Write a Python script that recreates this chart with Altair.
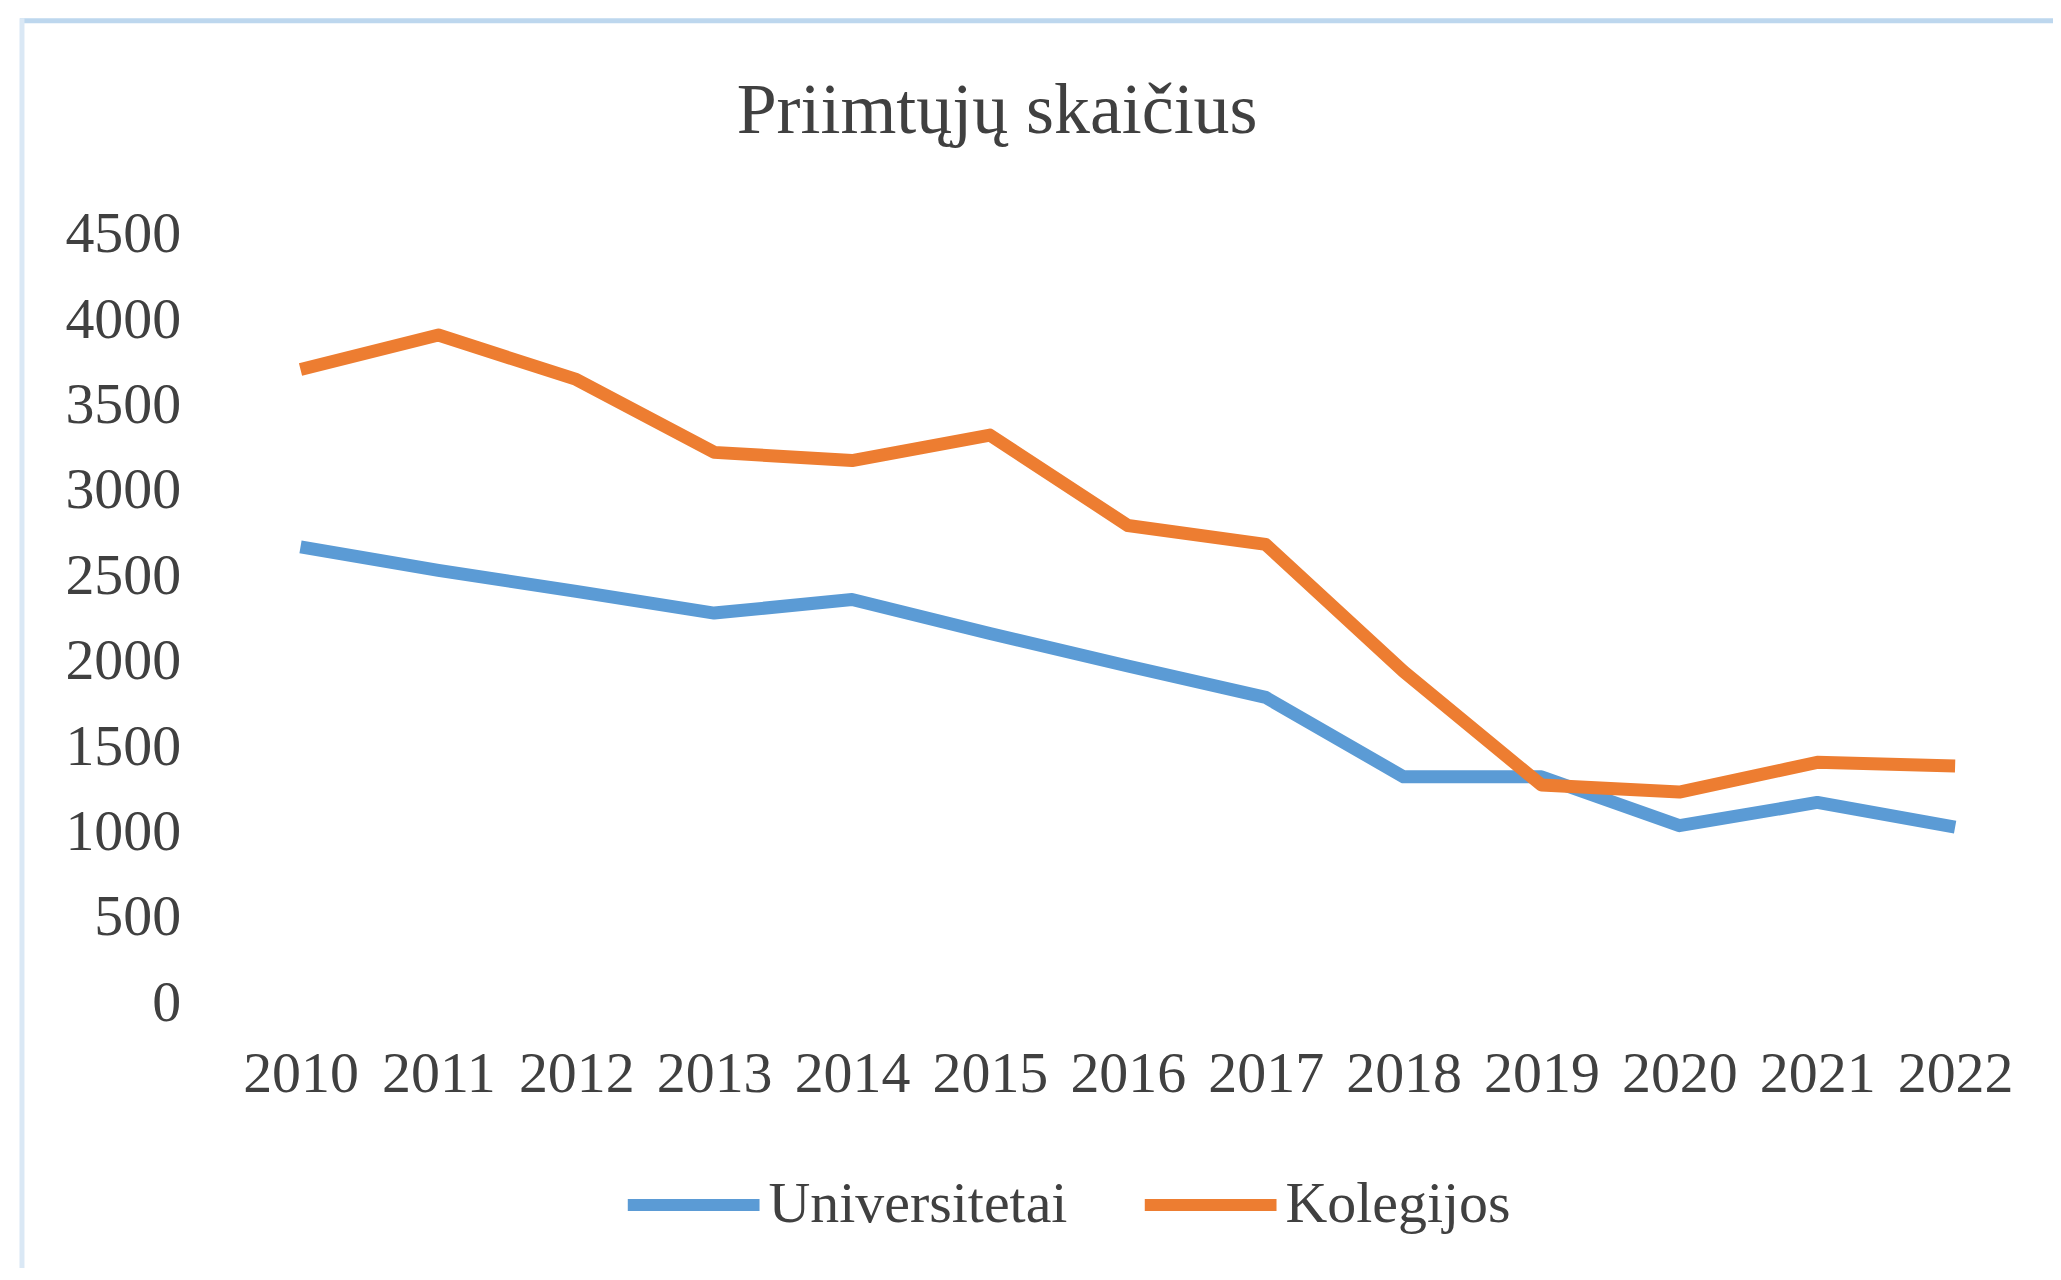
import altair as alt
import pandas as pd

years = ["2010", "2011", "2012", "2013", "2014", "2015", "2016",
         "2017", "2018", "2019", "2020", "2021", "2022"]
universitetai = [2672, 2535, 2412, 2285, 2364, 2165, 1975, 1791, 1326, 1326, 1040, 1176, 1031]
kolegijos = [3711, 3913, 3653, 3226, 3178, 3327, 2798, 2687, 1943, 1278, 1237, 1411, 1389]
series_names = ["Universitetai", "Kolegijos"]
series_colors = ["#5B9BD5", "#ED7D31"]
y_ticks = [0, 500, 1000, 1500, 2000, 2500, 3000, 3500, 4000, 4500]
title_text = "Priimtųjų skaičius"

rows = []
for name, vals in zip(series_names, [universitetai, kolegijos]):
    for y, v in zip(years, vals):
        rows.append({"year": y, "value": v, "series": name})
df = pd.DataFrame(rows)

FONT = "Liberation Serif"
TEXT = "#404040"

lines = alt.Chart(df).mark_line(strokeWidth=13, strokeJoin="round").encode(
    x=alt.X("year:O", sort=years,
            scale=alt.Scale(type="point", padding=0.5),
            axis=alt.Axis(title=None, labelAngle=0, domain=False, ticks=False, grid=False,
                          labelPadding=42, labelFontSize=58, labelFont=FONT,
                          labelColor=TEXT, labelOverlap=False)),
    y=alt.Y("value:Q",
            scale=alt.Scale(domain=[0, 4500], nice=False, zero=True),
            axis=alt.Axis(title=None, values=y_ticks, format="d", domain=False,
                          ticks=False, grid=False,
                          labelPadding=51, labelFontSize=58, labelFont=FONT,
                          labelColor=TEXT)),
    color=alt.Color("series:N", sort=series_names,
                    scale=alt.Scale(domain=series_names, range=series_colors),
                    legend=alt.Legend(orient="none", legendX=391, legendY=900,
                                      direction="horizontal", title=None,
                                      symbolType="stroke", symbolSize=17424,
                                      symbolStrokeWidth=12, labelFontSize=58,
                                      labelFont=FONT, labelColor=TEXT,
                                      labelOffset=3, columnPadding=53,
                                      padding=0, labelLimit=1000)),
)

one = pd.DataFrame({"a": [0]})
top_border = alt.Chart(one).mark_rule(color="#BDD7EE", strokeWidth=5).encode(
    x=alt.value(-212), x2=alt.value(1829), y=alt.value(-214.5))
left_border = alt.Chart(one).mark_rule(color="#DAE8F5", strokeWidth=5).encode(
    x=alt.value(-210), y=alt.value(-217), y2=alt.value(1046))

chart = alt.layer(top_border, left_border, lines).properties(
    width=1796, height=770,
    padding={"left": 224, "top": 226, "right": 29, "bottom": 264},
    autosize=alt.AutoSizeParams(type="none"),
    title=alt.TitleParams(text=title_text, font=FONT, fontSize=72, color=TEXT,
                          fontWeight="normal", anchor="middle", frame="group",
                          offset=0, dy=190, baseline="alphabetic", dx=-131),
).configure_view(stroke=None, strokeWidth=0)

chart.save("out.html", embed_options={"renderer": "svg", "actions": False})
